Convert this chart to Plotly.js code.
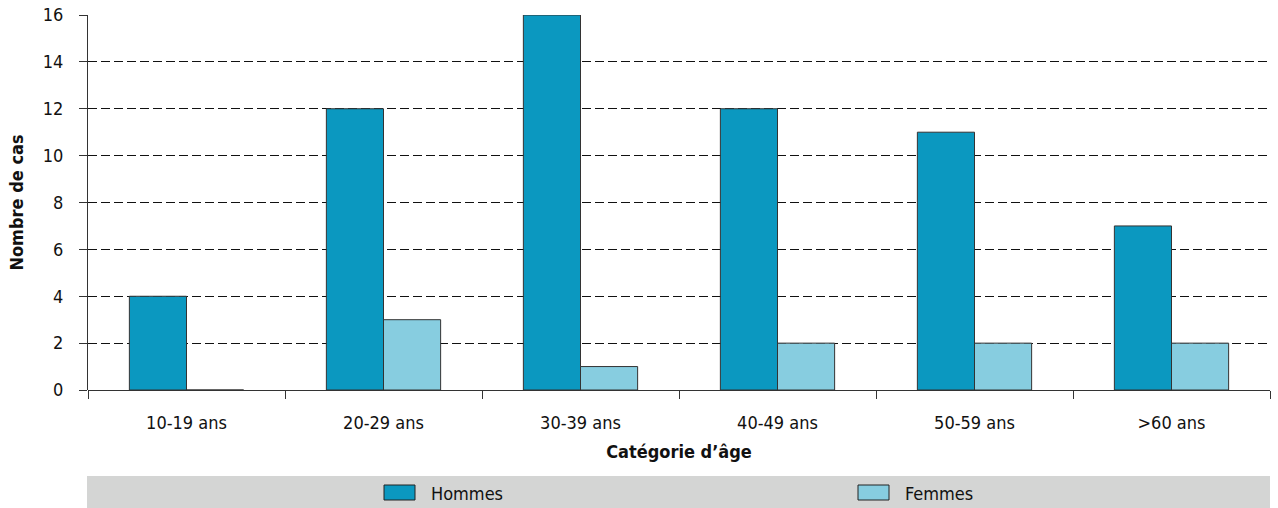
<!DOCTYPE html>
<html><head><meta charset="utf-8">
<script src="https://cdn.plot.ly/plotly-3.0.1.min.js"></script>
<style>html,body{margin:0;padding:0;background:#fff}#c{width:1278px;height:508px}</style>
</head><body><div id="c"></div>
<script>
const categories = ["10-19 ans","20-29 ans","30-39 ans","40-49 ans","50-59 ans",">60 ans"];
const seriesNames = ["Hommes","Femmes"];
const hommes = [4,12,16,12,11,7];
const femmes = [0,3,1,2,2,2];
const colors = ["#0b98c0","#87cde0"];
const yTicks = [0,2,4,6,8,10,12,14,16];

const W=1278,H=508,L=88,R=8,T=15,B=118;
const pw=W-L-R, ph=H-T-B;
const px=x=>(x-L)/pw, py=y=>(H-B-y)/ph;
const FONT='"DejaVu Sans Condensed","Liberation Sans Narrow",Arial,sans-serif';

const traces=[hommes,femmes].map((v,i)=>({
  type:'bar',x:categories,y:v,name:seriesNames[i],
  marker:{color:colors[i],line:{color:'#333',width:1}},
  showlegend:false,hoverinfo:'x+y'
}));

const legendX=[384,858];
const shapes=[{type:'rect',xref:'paper',yref:'paper',x0:px(87),x1:px(1270),y0:py(476),y1:py(508),fillcolor:'#d4d5d4',line:{width:0},layer:'below'}];
const annotations=[];
seriesNames.forEach((n,i)=>{
  shapes.push({type:'rect',xref:'paper',yref:'paper',x0:px(legendX[i]),x1:px(legendX[i]+31),y0:py(485),y1:py(500),fillcolor:colors[i],line:{color:'#222',width:1}});
  annotations.push({xref:'paper',yref:'paper',x:px(legendX[i]+45),y:py(493),xanchor:'left',yanchor:'middle',text:n,showarrow:false,font:{family:FONT,size:18,color:'#111'}});
});

const layout={
  width:W,height:H,margin:{l:L,r:R,t:T,b:B},
  paper_bgcolor:'#fff',plot_bgcolor:'#fff',
  font:{family:FONT,size:18,color:'#111'},
  bargap:0.42,bargroupgap:0,barmode:'group',
  xaxis:{type:'category',tickson:'boundaries',ticks:'outside',ticklen:8,tickcolor:'#333',
    showline:false,showgrid:false,ticklabelstandoff:20,
    title:{text:'<b>Catégorie d’âge</b>',standoff:13,font:{family:FONT,size:18}}},
  yaxis:{range:[0,16],tickvals:yTicks,ticks:'outside',ticklen:8,tickcolor:'#333',
    showline:true,linecolor:'#333',linewidth:1,
    showgrid:true,gridcolor:'#111',griddash:'9px,4px',gridwidth:1,
    zeroline:true,zerolinecolor:'#333',zerolinewidth:1,ticklabelstandoff:12,
    title:{text:'<b>Nombre de cas</b>',standoff:14,font:{family:FONT,size:18}}},
  shapes:shapes,annotations:annotations,showlegend:false
};
Plotly.newPlot('c',traces,layout,{displayModeBar:false,staticPlot:true});
</script></body></html>
